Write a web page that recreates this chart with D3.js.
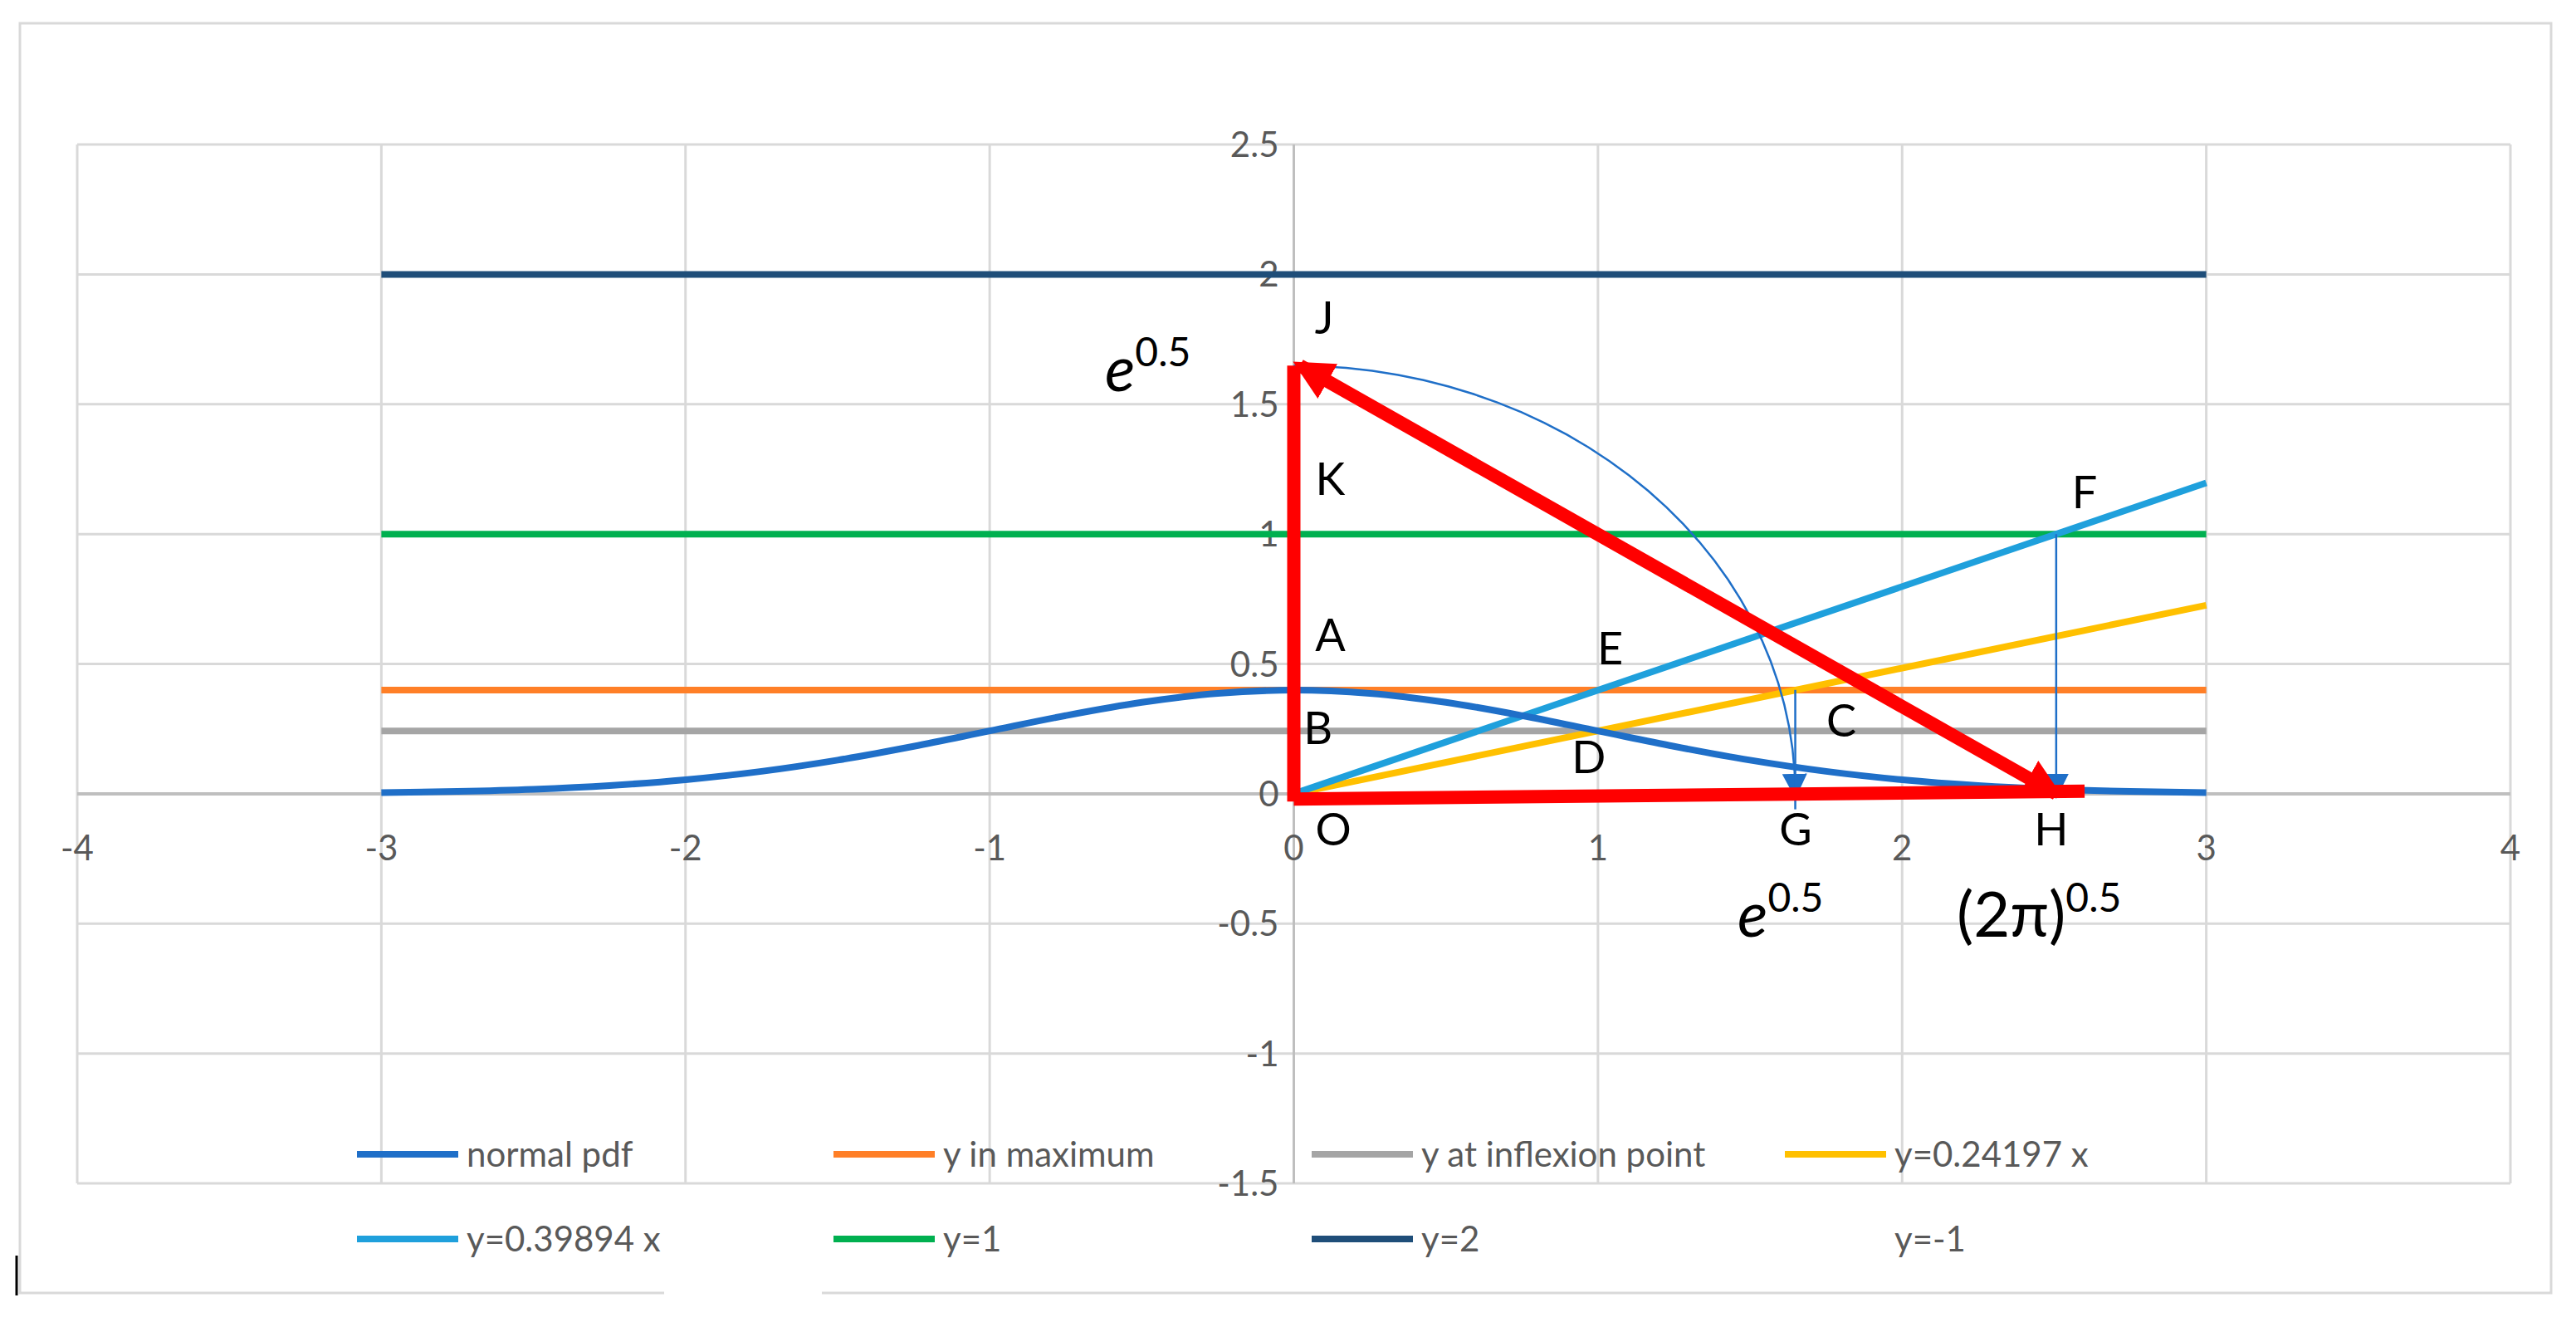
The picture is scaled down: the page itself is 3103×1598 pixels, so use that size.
<!DOCTYPE html>
<html>
<head>
<meta charset="utf-8">
<script src="https://cdn.jsdelivr.net/npm/d3@7"></script>
<style>
  body { margin: 0; background: #fff; }
  text { font-family: Lato, "Open Sans", sans-serif; }
</style>
</head>
<body>
<div id="chart"></div>
<script>
// data
let xTicks = [-4, -3, -2, -1, 0, 1, 2, 3, 4];
let yTicks = [-1.5, -1, -0.5, 0, 0.5, 1, 1.5, 2, 2.5];
let pdfX = [-3, -2.75, -2.5, -2.25, -2, -1.75, -1.5, -1.25, -1, -0.75, -0.5, -0.25, 0, 0.25, 0.5, 0.75, 1, 1.25, 1.5, 1.75, 2, 2.25, 2.5, 2.75, 3];
let pdfY = [0.0044, 0.0091, 0.0175, 0.0317, 0.054, 0.0863, 0.1295, 0.1826, 0.242, 0.3011, 0.3521, 0.3867, 0.3989, 0.3867, 0.3521, 0.3011, 0.242, 0.1826, 0.1295, 0.0863, 0.054, 0.0317, 0.0175, 0.0091, 0.0044];
let seriesNames = ["normal pdf", "y in maximum", "y at inflexion point", "y=0.24197 x", "y=0.39894 x", "y=1", "y=2", "y=-1"];
let seriesColors = ["#1f6fc8", "#ff7f27", "#a5a5a5", "#ffc000", "#1fa0dc", "#00b050", "#1f4e79", "none"];
let hLevels = [0.39894, 0.24197, 1, 2];          // y in maximum, inflexion, y=1, y=2
let hColors = ["#ff7f27", "#a5a5a5", "#00b050", "#1f4e79"];
let slopes = [0.24197, 0.39894];
let slopeColors = ["#ffc000", "#1fa0dc"];
let sqrtE = 1.6487, sqrt2pi = 2.5066;
let pointLabels = [
  ["J", 0.1, 1.77], ["K", 0.12, 1.15], ["A", 0.12, 0.55], ["B", 0.08, 0.19],
  ["O", 0.13, -0.2], ["E", 1.04, 0.5], ["D", 0.97, 0.08], ["C", 1.8, 0.22],
  ["F", 2.6, 1.1], ["G", 1.65, -0.2], ["H", 2.49, -0.2]
];

let W = 3103, H = 1598;
let x = d3.scaleLinear().domain([-4, 4]).range([93, 3024]);
let y = d3.scaleLinear().domain([-1.5, 2.5]).range([1425, 174]);

let svg = d3.select("#chart").append("svg").attr("width", W).attr("height", H);
svg.append("rect").attr("x", 24).attr("y", 28).attr("width", 3049).attr("height", 1529)
  .attr("fill", "#fff").attr("stroke", "#d9d9d9").attr("stroke-width", 3);

let defs = svg.append("defs");
function marker(id, color, size) {
  defs.append("marker").attr("id", id).attr("viewBox", "0 0 10 10").attr("refX", 8).attr("refY", 5)
    .attr("markerWidth", size).attr("markerHeight", size).attr("markerUnits", "userSpaceOnUse")
    .attr("orient", "auto-start-reverse")
    .append("path").attr("d", "M0,0 L10,5 L0,10 z").attr("fill", color);
}
marker("redArrow", "#ff0000", 48);
marker("blueArrow", "#1f6fc8", 30);

// grid
svg.append("g").selectAll("line").data(xTicks).join("line")
  .attr("x1", d => x(d)).attr("x2", d => x(d)).attr("y1", y(2.5)).attr("y2", y(-1.5))
  .attr("stroke", "#d9d9d9").attr("stroke-width", 3);
svg.append("g").selectAll("line").data(yTicks).join("line")
  .attr("x1", x(-4)).attr("x2", x(4)).attr("y1", d => y(d)).attr("y2", d => y(d))
  .attr("stroke", "#d9d9d9").attr("stroke-width", 3);
// axes lines
svg.append("line").attr("x1", x(-4)).attr("x2", x(4)).attr("y1", y(0)).attr("y2", y(0))
  .attr("stroke", "#bfbfbf").attr("stroke-width", 4);
svg.append("line").attr("x1", x(0)).attr("x2", x(0)).attr("y1", y(2.5)).attr("y2", y(-1.5))
  .attr("stroke", "#bfbfbf").attr("stroke-width", 3);

// tick labels
svg.append("g").selectAll("text").data(xTicks).join("text")
  .attr("x", d => x(d)).attr("y", y(0) + 80).attr("text-anchor", "middle")
  .attr("font-size", 42).attr("fill", "#595959").text(d => d);
svg.append("g").selectAll("text").data(yTicks).join("text")
  .attr("x", x(0) - 18).attr("y", d => y(d) + 15).attr("text-anchor", "end")
  .attr("font-size", 42).attr("fill", "#595959").text(d => d);

let line = d3.line().x(d => x(d[0])).y(d => y(d[1]));

// horizontal series
hLevels.forEach((v, i) => {
  svg.append("path").attr("d", line([[-3, v], [3, v]])).attr("stroke", hColors[i])
    .attr("stroke-width", 8).attr("fill", "none");
});
// slopes
slopes.forEach((s, i) => {
  svg.append("path").attr("d", line([[0, 0], [3, 3 * s]])).attr("stroke", slopeColors[i])
    .attr("stroke-width", 8).attr("fill", "none");
});
// normal pdf
svg.append("path").attr("d", d3.line().curve(d3.curveMonotoneX).x(d => x(d[0])).y(d => y(d[1]))(pdfX.map((v, i) => [v, pdfY[i]])))
  .attr("stroke", "#1f6fc8").attr("stroke-width", 8).attr("fill", "none");

// thin blue construction lines
let arcPts = d3.range(0, 91, 3).map(a => [sqrtE * Math.sin(a * Math.PI / 180), sqrtE * Math.cos(a * Math.PI / 180)]);
svg.append("path").attr("d", line(arcPts)).attr("stroke", "#1f6fc8").attr("stroke-width", 2.5)
  .attr("fill", "none").attr("marker-end", "url(#blueArrow)");
svg.append("path").attr("d", line([[sqrtE, 0.4], [sqrtE, -0.06]])).attr("stroke", "#1f6fc8").attr("stroke-width", 2.5);
svg.append("path").attr("d", line([[sqrt2pi, 1], [sqrt2pi, 0]])).attr("stroke", "#1f6fc8").attr("stroke-width", 2.5)
  .attr("fill", "none").attr("marker-end", "url(#blueArrow)");

// red triangle
svg.append("path").attr("d", line([[0, -0.03], [0, sqrtE]])).attr("stroke", "#ff0000").attr("stroke-width", 16).attr("fill", "none");
svg.append("path").attr("d", line([[0, -0.02], [2.6, 0.01]])).attr("stroke", "#ff0000").attr("stroke-width", 16).attr("fill", "none");
svg.append("path").attr("d", line([[0.02, sqrtE], [sqrt2pi, 0]])).attr("stroke", "#ff0000").attr("stroke-width", 16)
  .attr("fill", "none").attr("marker-start", "url(#redArrow)").attr("marker-end", "url(#redArrow)");

// point labels
svg.append("g").selectAll("text").data(pointLabels).join("text")
  .attr("x", d => x(d[1])).attr("y", d => y(d[2])).attr("text-anchor", "middle")
  .attr("font-size", 54).attr("fill", "#000").text(d => d[0]);

// e^0.5 and (2pi)^0.5 labels
function powerLabel(base, xv, yv, italic) {
  let t = svg.append("text").attr("x", x(xv)).attr("y", y(yv)).attr("font-size", 76).attr("fill", "#000")
    .attr("text-anchor", "middle");
  t.append("tspan").attr("font-style", italic ? "italic" : "normal").text(base);
  t.append("tspan").attr("font-size", 48).attr("dy", -30).text("0.5");
}
powerLabel("e", -0.48, 1.55, true);
powerLabel("e", 1.6, -0.55, true);
powerLabel("(2\u03c0)", 2.45, -0.55, false);

// legend
let legendPos = [[430, 1390], [1004, 1390], [1580, 1390], [2150, 1390], [430, 1492], [1004, 1492], [1580, 1492], [2150, 1492]];
let lg = svg.append("g").selectAll("g").data(seriesNames).join("g")
  .attr("transform", (d, i) => "translate(" + legendPos[i][0] + "," + legendPos[i][1] + ")");
lg.append("line").attr("x1", 0).attr("x2", 122).attr("stroke", (d, i) => seriesColors[i]).attr("stroke-width", 8);
lg.append("text").attr("x", 132).attr("y", 15).attr("font-size", 42).attr("fill", "#595959").text(d => d);

// small stray marks at the bottom left
svg.append("line").attr("x1", 20).attr("x2", 20).attr("y1", 1512).attr("y2", 1560).attr("stroke", "#000").attr("stroke-width", 3);
svg.append("line").attr("x1", 800).attr("x2", 990).attr("y1", 1557).attr("y2", 1557).attr("stroke", "#fff").attr("stroke-width", 4);
</script>
</body>
</html>
